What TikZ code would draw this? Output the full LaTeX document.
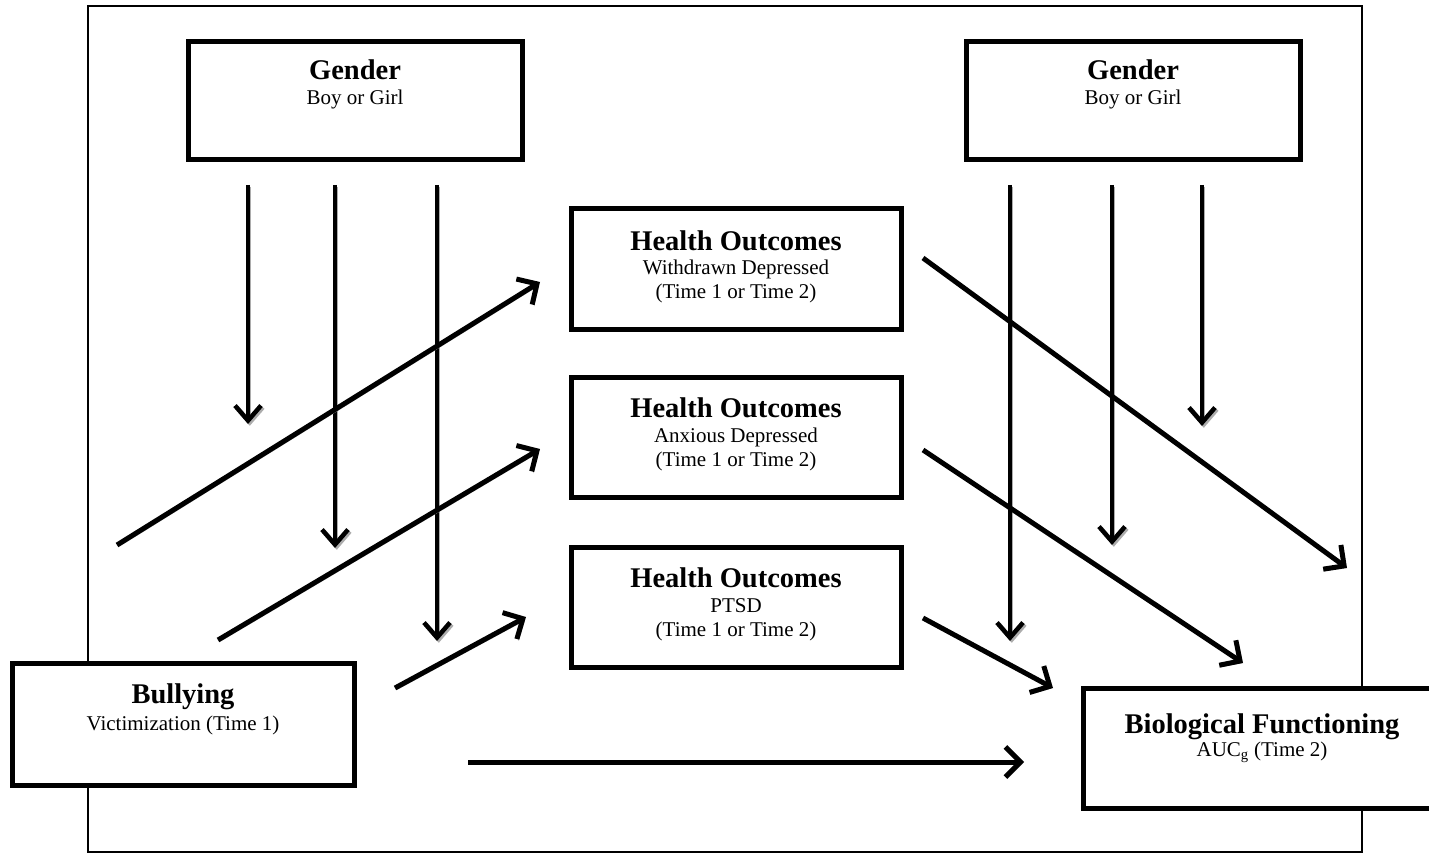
\documentclass[tikz,border=0pt]{standalone}
\usepackage{fontspec}
\setmainfont{Liberation Serif}
\usetikzlibrary{arrows.meta}
\begin{document}
\begin{tikzpicture}[x=1pt,y=-1pt,
  box/.style={draw=black, line width=5pt, fill=white, minimum height=118pt, inner sep=0pt},
  ttl/.style={anchor=base, font=\fontsize{28.5}{30}\selectfont\bfseries, inner sep=0pt},
  sub/.style={anchor=base, font=\fontsize{21}{24}\selectfont, inner sep=0pt},
  shad/.style={preaction={draw=gray!65, transform canvas={shift={(1.8pt,-1.8pt)}}}},
  varrow/.style={shad, line width=3.4pt, -{Straight Barb[length=15pt,width=26pt,line width=4.5pt]}},
  darrow/.style={shad, line width=5pt, -{Straight Barb[length=15pt,width=30pt,line width=5pt]}},
]
\clip (0,0) rectangle (1429,853);
\fill[white] (0,0) rectangle (1429,853);
\node[draw=black, line width=1.5pt, minimum width=1274pt, minimum height=846pt, inner sep=0pt] (frame) at (725,429) {};

% boxes
\node[box, minimum width=334pt] (gl) at (355,101) {};
\node[ttl] (glt) at (355,80) {Gender};
\node[sub] (gls) at (355,105) {Boy or Girl};

\node[box, minimum width=334pt] (gr) at (1133,101) {};
\node[ttl] (grt) at (1133,80) {Gender};
\node[sub] (grs) at (1133,105) {Boy or Girl};

\node[box, minimum width=330pt, minimum height=120pt] (h1) at (736,269) {};
\node[ttl] (h1t) at (736,250) {Health Outcomes};
\node[sub] (h1s) at (736,274) {Withdrawn Depressed};
\node[sub] (h1u) at (736,298) {(Time 1 or Time 2)};

\node[box, minimum width=330pt, minimum height=120pt] (h2) at (736,437) {};
\node[ttl] (h2t) at (736,417) {Health Outcomes};
\node[sub] (h2s) at (736,442) {Anxious Depressed};
\node[sub] (h2u) at (736,466) {(Time 1 or Time 2)};

\node[box, minimum width=330pt, minimum height=120pt] (h3) at (736,607) {};
\node[ttl] (h3t) at (736,587) {Health Outcomes};
\node[sub] (h3s) at (736,612) {PTSD};
\node[sub] (h3u) at (736,636) {(Time 1 or Time 2)};

\node[box, minimum width=342pt, minimum height=122pt] (bu) at (183,724) {};
\node[ttl] (but) at (183,703) {Bullying};
\node[sub] (bus) at (183,730) {Victimization (Time 1)};

\node[box, minimum width=358pt, minimum height=120pt] (bi) at (1262,748) {};
\node[ttl] (bit) at (1262,733) {Biological Functioning};
\node[sub] (bis) at (1262,756) {AUC\textsubscript{g} (Time 2)};

% coordinates
\coordinate (v1s) at (248,185); \coordinate (v1e) at (248,424);
\coordinate (v2s) at (335,185); \coordinate (v2e) at (335,548);
\coordinate (v3s) at (437,185); \coordinate (v3e) at (437,641);
\coordinate (v4s) at (1010,185); \coordinate (v4e) at (1010,641);
\coordinate (v5s) at (1112,185); \coordinate (v5e) at (1112,545);
\coordinate (v6s) at (1202,185); \coordinate (v6e) at (1202,426);

\coordinate (d1s) at (117,545); \coordinate (d1e) at (540,282);
\coordinate (d2s) at (218,640); \coordinate (d2e) at (540,449);
\coordinate (d3s) at (395,688); \coordinate (d3e) at (526,617);
\coordinate (d4s) at (923,258); \coordinate (d4e) at (1347,568);
\coordinate (d5s) at (923,450); \coordinate (d5e) at (1243,663);
\coordinate (d6s) at (923,618); \coordinate (d6e) at (1053,688);
\coordinate (hs) at (468,762); \coordinate (he) at (1024,762);

\draw[varrow] (v1s) -- (v1e);
\draw[varrow] (v2s) -- (v2e);
\draw[varrow] (v3s) -- (v3e);
\draw[varrow] (v4s) -- (v4e);
\draw[varrow] (v5s) -- (v5e);
\draw[varrow] (v6s) -- (v6e);

\draw[darrow] (d1s) -- (d1e);
\draw[darrow] (d2s) -- (d2e);
\draw[darrow] (d3s) -- (d3e);
\draw[darrow] (d4s) -- (d4e);
\draw[darrow] (d5s) -- (d5e);
\draw[darrow] (d6s) -- (d6e);
\draw[darrow] (hs) -- (he);
\end{tikzpicture}
\end{document}
